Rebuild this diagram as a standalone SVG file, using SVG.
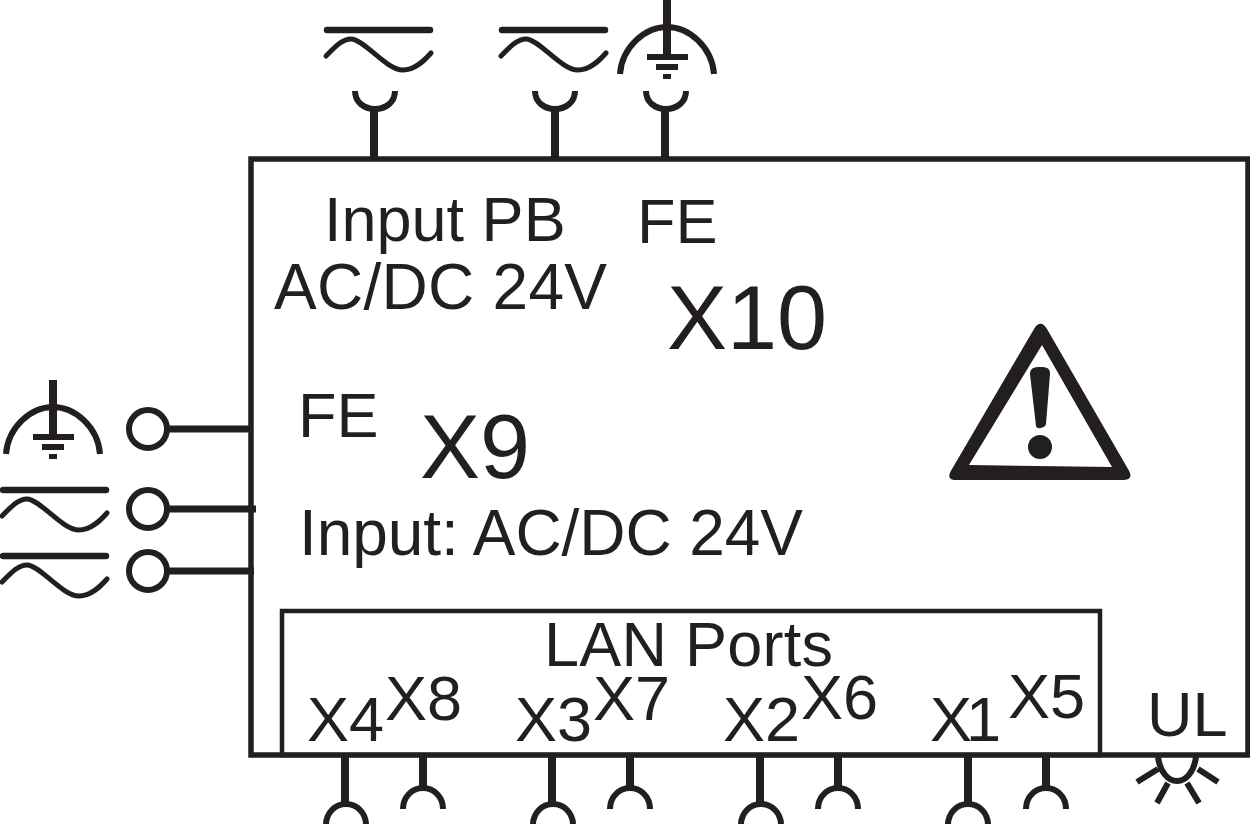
<svg xmlns="http://www.w3.org/2000/svg" width="1250" height="824" viewBox="0 0 1250 824">
<style>
text{font-family:"Liberation Sans",Arial,sans-serif;fill:#231f20}
.m{font-size:63px}
.b{font-size:64px}
.l{font-size:90px}
.s{fill:none;stroke:#231f20;stroke-width:6;stroke-linecap:butt}
.t{fill:none;stroke:#231f20;stroke-width:8}
.w{fill:none;stroke:#231f20;stroke-width:5;stroke-linecap:round}
.f{fill:#231f20}
</style>
<defs>
<g id="ac">
<path d="M3 0H106" fill="none" stroke="#231f20" stroke-width="6.5" stroke-linecap="round"/>
<path class="w" d="M2 26C11 17 18 9 27 9C40 9 62 40 79 40C91 40 100 31 107 23"/>
</g>
<g id="earth">
<path class="s" d="M0 47C2 20 25 0 47 0C69 0 92 20 94 47"/>
<path class="f" d="M43 -27H51V28H43ZM27 27H68V33H27ZM36 37H58V43H36ZM43 47H51V52H43Z"/>
</g>
<path id="plugUp" class="s" d="M-20 0C-20 11 -11 18 0 18C11 18 20 11 20 0"/>
<path id="plugDown" class="s" d="M-20 21C-20 9 -11 0 0 0C11 0 20 9 20 21"/>
</defs>
<g id="connectors">
<path class="t" d="M374 109V159M555 109V159M665 109V159"/>
<path class="t" style="stroke-width:7" d="M165 429H251M165 509H256M165 571H254"/>
<path class="t" d="M345 755V804M423 755V788M552 755V804M630 755V788M760 755V804M838 755V788M968 755V804M1046 755V788"/>
</g>
<g id="device">
<rect x="251" y="159" width="997" height="596" fill="none" stroke="#231f20" stroke-width="5.5"/>
</g>
<g id="lan-ports">
<rect x="282" y="611" width="818" height="144" fill="none" stroke="#231f20" stroke-width="4.5"/>
<text class="m" x="544" y="666" textLength="289">LAN Ports</text>
<text class="m" x="307" y="741">X4</text>
<text class="m" x="385" y="720">X8</text>
<text class="m" x="515" y="741">X3</text>
<text class="m" x="593" y="720">X7</text>
<text class="m" x="723" y="741">X2</text>
<text class="m" x="801" y="719">X6</text>
<text class="m" x="930" y="741" textLength="71">X1</text>
<text class="m" x="1008" y="718">X5</text>
</g>
<g id="labels">
<text class="m" x="324" y="241">Input PB</text>
<text class="b" x="274" y="309" textLength="333">AC/DC 24V</text>
<text class="m" x="637" y="243">FE</text>
<text class="l" x="667" y="349">X10</text>
<text class="m" x="298" y="437">FE</text>
<text class="l" x="420" y="478">X9</text>
<text class="b" x="299" y="555" textLength="504">Input: AC/DC 24V</text>
<text class="m" x="1147" y="736">UL</text>
</g>
<g id="input-top-1"><use href="#ac" x="324" y="30"/><use href="#plugUp" x="375" y="91"/></g>
<g id="input-top-2"><use href="#ac" x="499" y="30"/><use href="#plugUp" x="555" y="91"/></g>
<g id="fe-top"><use href="#earth" x="620" y="27"/><use href="#plugUp" x="666" y="91"/></g>
<g id="fe-left"><use href="#earth" x="6" y="407"/><circle class="s" cx="148" cy="429" r="19"/></g>
<g id="input-left-1"><use href="#ac" x="0" y="490"/><circle class="s" cx="148" cy="509" r="19"/></g>
<g id="input-left-2"><use href="#ac" x="0" y="556"/><circle class="s" cx="148" cy="571" r="19"/></g>
<g id="warning">
<path class="f" fill-rule="evenodd" d="M1034 329C1038 322 1043 322 1047 329L1128 469C1133 477 1130 480 1122 480L957 480C949 480 947 477 952 469ZM1042 345L969 465L1112 467Z"/>
<path class="f" d="M1030 374C1030 368 1034 367 1040 367C1047 367 1050 368 1050 374L1046 424C1045 428 1037 430 1036 426Z"/>
<circle class="f" cx="1040" cy="447" r="12"/>
</g>
<g id="socket-x4"><use href="#plugDown" x="346" y="804"/></g>
<g id="socket-x8"><use href="#plugDown" x="423" y="788"/></g>
<g id="socket-x3"><use href="#plugDown" x="553" y="804"/></g>
<g id="socket-x7"><use href="#plugDown" x="630" y="788"/></g>
<g id="socket-x2"><use href="#plugDown" x="761" y="804"/></g>
<g id="socket-x6"><use href="#plugDown" x="838" y="788"/></g>
<g id="socket-x1"><use href="#plugDown" x="968" y="804"/></g>
<g id="socket-x5"><use href="#plugDown" x="1046" y="788"/></g>
<g id="ul-led">
<path class="s" d="M1158 757C1160 772 1168 781 1177 781C1186 781 1194 772 1196 757M1137 782L1158 769M1157 803L1168 783M1199 803L1187 783M1218 782L1198 769"/>
</g>
</svg>
